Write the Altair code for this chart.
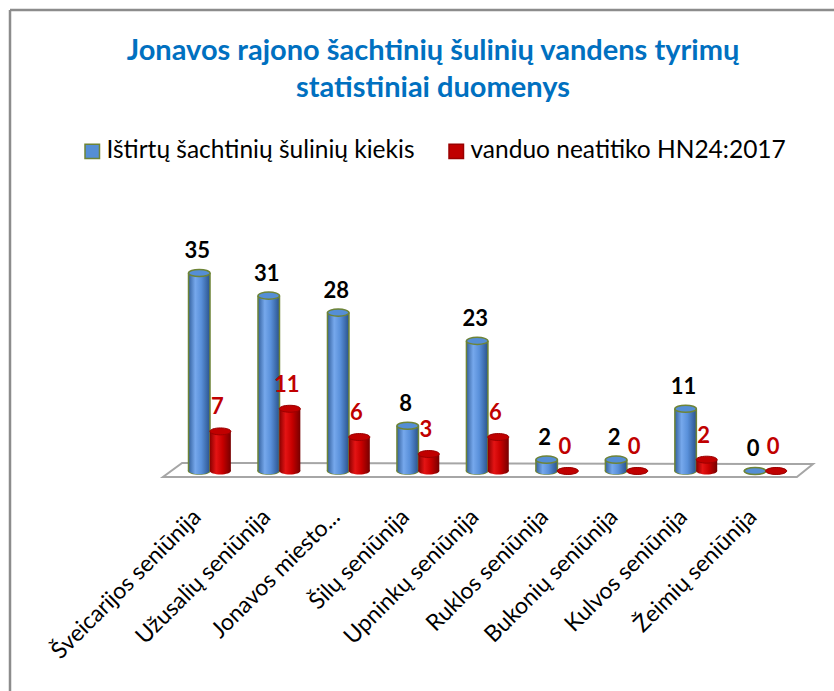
import json
import altair as alt
import pandas as pd

categories = ["Šveicarijos seniūnija", "Užusalių seniūnija", "Jonavos miesto...",
              "Šilų seniūnija", "Upninkų seniūnija", "Ruklos seniūnija",
              "Bukonių seniūnija", "Kulvos seniūnija", "Žeimių seniūnija"]
tested = [35, 31, 28, 8, 23, 2, 2, 11, 0]
noncompliant = [7, 11, 6, 3, 6, 0, 0, 2, 0]
series_names = ["Ištirtų šachtinių šulinių kiekis", "vanduo neatitiko HN24:2017"]
title_lines = ["Jonavos rajono šachtinių šulinių vandens tyrimų", "statistiniai duomenys"]

rows = []
for i, (c, t, n) in enumerate(zip(categories, tested, noncompliant)):
    rows.append({"idx": i, "cat": c, "series": series_names[0], "value": t, "base": 0})
    rows.append({"idx": i, "cat": c, "series": series_names[1], "value": n, "base": 0})
df = pd.DataFrame(rows)
one = pd.DataFrame({"k": [0]})

W, H = 824, 681
BLUE = "#558ED5"
OLIVE = "#6E8436"
RED = "#C00000"
DARKRED = "#9A0000"
FONT = "Lato"
HALF = 10.55  # half of a sub-bar slot

ELLIPSE = "M-1,0A1,0.33,0,1,1,1,0A1,0.33,0,1,1,-1,0Z"
FLOOR = "M-0.927,-0.0212L0.985,-0.0182L0.936,0.0212L-0.985,0.0212Z"

label_expr = json.dumps(categories, ensure_ascii=False) + "[datum.value]"

x_scale = alt.Scale(domain=[-2.804, 8.912], nice=False, zero=False)
x_enc = alt.X("idx:Q", scale=x_scale,
              axis=alt.Axis(title=None, values=list(range(len(categories))), labelExpr=label_expr,
                            labelAngle=-45, labelAlign="right", labelBaseline="middle",
                            labelFont=FONT, labelFontSize=23,
                            labelColor="black", domain=False, ticks=False, grid=False,
                            labelPadding=42, labelOffset=-13, labelLimit=0,
                            labelFlush=False, labelOverlap=False, labelBound=False,
                            offset=461 - H))
y_scale = alt.Scale(domain=[-38.9, 81.5], nice=False, zero=False)
y_enc = alt.Y("value:Q", scale=y_scale, axis=None)
y_base = alt.Y("base:Q", scale=y_scale, axis=None)

def grad(stops):
    return alt.Gradient(gradient="linear", x1=0, x2=1, y1=0, y2=0,
                        stops=[alt.GradientStop(offset=o, color=c) for o, c in stops])

blue_grad = grad([(0, "#3A68A6"), (0.3, "#76A8EC"), (0.6, "#5990DA"), (1, "#2E5893")])
red_grad = grad([(0, "#8A0000"), (0.3, "#E41414"), (0.6, "#C80000"), (1, "#760000")])

base = alt.Chart(df)
blue = base.transform_filter(alt.datum.series == series_names[0])
red = base.transform_filter(alt.datum.series == series_names[1])

frame_left = alt.Chart(one).mark_rule(color="#8C8C8C", strokeWidth=2.5).encode(
    x=alt.value(0), y=alt.value(0), y2=alt.value(H + 10))
frame_top = alt.Chart(one).mark_rule(color="#8C8C8C", strokeWidth=2.5).encode(
    x=alt.value(0), x2=alt.value(W + 10), y=alt.value(0))

floor = alt.Chart(one).mark_point(shape=FLOOR, size=660 * 660, filled=True, fill="white",
                                  stroke="#A6A6A6", strokeWidth=2, opacity=1).encode(
    x=alt.value(478), y=alt.value(460))

blue_outline = blue.mark_bar(width=23, color=OLIVE, xOffset=-HALF).encode(x=x_enc, y=y_enc, y2="base:Q")
blue_outline_bottom = blue.mark_point(shape=ELLIPSE, size=23 * 23, filled=True, color=OLIVE,
                                      opacity=1, xOffset=-HALF).encode(x=x_enc, y=y_base)
blue_bottom = blue.mark_point(shape=ELLIPSE, size=20 * 20, filled=True, color=blue_grad,
                              opacity=1, xOffset=-HALF).encode(x=x_enc, y=y_base)
blue_bar = blue.mark_bar(width=20, color=blue_grad, xOffset=-HALF).encode(x=x_enc, y=y_enc, y2="base:Q")

red_bottom = red.mark_point(shape=ELLIPSE, size=21 * 21, filled=True, color=red_grad,
                            opacity=1, xOffset=HALF).encode(x=x_enc, y=y_base)
red_bar = red.mark_bar(width=21, color=red_grad, xOffset=HALF).encode(x=x_enc, y=y_enc, y2="base:Q")

legend = alt.Legend(title=None, orient="none", legendX=70, legendY=129, direction="horizontal",
                    symbolType="square", symbolSize=210, symbolStrokeWidth=1.5,
                    labelFont=FONT, labelFontSize=24.5, labelColor="black", labelOffset=2,
                    columnPadding=29, labelLimit=0)

fill_scale = alt.Scale(domain=series_names, range=[BLUE, RED])
stroke_scale = alt.Scale(domain=series_names, range=[OLIVE, DARKRED])

blue_top = blue.mark_point(shape=ELLIPSE, size=462, filled=True, strokeWidth=1.5, opacity=1,
                           xOffset=-HALF).encode(
    x=x_enc, y=y_enc,
    fill=alt.Fill("series:N", scale=fill_scale, legend=legend),
    stroke=alt.Stroke("series:N", scale=stroke_scale, legend=legend))
red_top = red.mark_point(shape=ELLIPSE, size=441, filled=True, strokeWidth=1, opacity=1,
                         xOffset=HALF).encode(
    x=x_enc, y=y_enc,
    fill=alt.Fill("series:N", scale=fill_scale, legend=legend),
    stroke=alt.Stroke("series:N", scale=stroke_scale, legend=legend))

blue_text = blue.mark_text(font=FONT, fontSize=22, fontWeight="bold", color="black",
                           baseline="alphabetic", dy=-15, dx=-2 - HALF).encode(
    x=x_enc, y=y_enc, text="value:Q")
red_text = red.mark_text(font=FONT, fontSize=22, fontWeight="bold", color=RED,
                         baseline="alphabetic", dy=-17, dx=-3 + HALF).encode(
    x=x_enc, y=y_enc, text="value:Q")

chart = alt.layer(
    frame_left, frame_top, floor,
    blue_outline, blue_outline_bottom, blue_bottom, blue_bar,
    red_bottom, red_bar, blue_top, red_top, blue_text, red_text
).properties(
    width=W, height=H,
    title=alt.TitleParams(title_lines, font=FONT, fontSize=29, fontWeight="bold",
                          color="#0070C0", lineHeight=37, anchor="middle", offset=-94, dx=11),
    autosize=alt.AutoSizeParams(type="none"),
    padding={"left": 10, "top": 10, "right": 0, "bottom": 0},
).configure_view(stroke=None).configure(background="white")

chart.save("out.html", embed_options={"renderer": "svg", "actions": False})
